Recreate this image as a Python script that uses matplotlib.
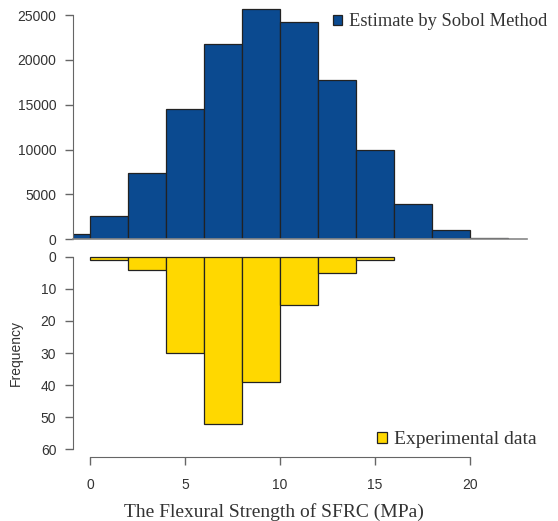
import matplotlib
matplotlib.use("Agg")
import matplotlib.pyplot as plt
from matplotlib.patches import Patch

# simulated (Sobol) histogram, bins of width 2 starting at -2
sobol_left_edges = [-2, 0, 2, 4, 6, 8, 10, 12, 14, 16, 18, 20]
sobol_counts = [560, 2600, 7400, 14500, 21800, 25700, 24200, 17800, 9900, 3950, 1000, 150]

# experimental histogram, bins of width 2 starting at 0
exp_left_edges = [0, 2, 4, 6, 8, 10, 12, 14]
exp_counts = [1, 4, 30, 52, 39, 15, 5, 1]

bin_width = 2
blue = "#0b4a90"
yellow = "#ffd800"
edge = "#222222"
axis_color = "#666666"
text_color = "#333333"

W, H = 558, 521
fig = plt.figure(figsize=(W / 100, H / 100), dpi=100)

sans = ["Liberation Sans", "DejaVu Sans"]
serif = ["Liberation Serif", "DejaVu Serif"]

# top panel
ax_t = fig.add_axes([73 / W, (H - 239.3) / H, 454 / W, (239.3 - 5) / H])
ax_t.bar(sobol_left_edges, sobol_counts, width=bin_width, align="edge",
         color=blue, edgecolor=edge, linewidth=0.9)
ax_t.set_xlim(-0.895, 23.0)
ax_t.set_ylim(0, 26120)
for s in ["top", "right"]:
    ax_t.spines[s].set_visible(False)
ax_t.spines["left"].set_bounds(0, 25000)
ax_t.spines["left"].set_color(axis_color)
ax_t.spines["bottom"].set_color("#888888")
ax_t.spines["bottom"].set_linewidth(1.2)
ax_t.set_xticks([])
ax_t.set_yticks(range(0, 25001, 5000))
ax_t.tick_params(axis="y", length=6, width=1, color=axis_color, pad=6,
                 labelsize=10, labelcolor=text_color)
for lab in ax_t.get_yticklabels():
    lab.set_family(sans)

# bottom panel (inverted)
ax_b = fig.add_axes([73 / W, (H - 456.7) / H, 454 / W, (456.7 - 250) / H])
ax_b.bar(exp_left_edges, exp_counts, width=bin_width, align="edge",
         color=yellow, edgecolor=edge, linewidth=0.9)
ax_b.set_xlim(-0.895, 23.0)
ax_b.set_ylim(62.3, -2.09)
for s in ["top", "right"]:
    ax_b.spines[s].set_visible(False)
ax_b.spines["left"].set_bounds(0, 60)
ax_b.spines["bottom"].set_bounds(0, 20)
for s in ["left", "bottom"]:
    ax_b.spines[s].set_color(axis_color)
ax_b.set_yticks(range(0, 61, 10))
ax_b.set_xticks(range(0, 21, 5))
ax_b.tick_params(axis="both", length=6, width=1, color=axis_color,
                 labelsize=10, labelcolor=text_color)
ax_b.tick_params(axis="y", pad=6)
ax_b.tick_params(axis="x", pad=9)
for lab in ax_b.get_yticklabels() + ax_b.get_xticklabels():
    lab.set_family(sans)

ax_b.set_ylabel("Frequency", fontsize=10, family=sans, color=text_color)
ax_b.yaxis.set_label_coords(-0.11, 0.504)
ax_b.set_xlabel("The Flexural Strength of SFRC (MPa)", fontsize=14,
                family=serif, color=text_color)
ax_b.xaxis.set_label_coords(0.443, -0.2675)
ax_b.xaxis.label.set_va("center")

# legends
def add_legend(color, label, x_px, y_px, size):
    leg = fig.legend(handles=[Patch(facecolor=color, edgecolor=edge, linewidth=0.9)],
                     labels=[label], frameon=False, loc="center left",
                     bbox_to_anchor=(x_px / W, (H - y_px) / H),
                     borderpad=0, borderaxespad=0,
                     handlelength=0.5, handleheight=0.5, handletextpad=0.35,
                     prop={"family": serif, "size": size})
    for t in leg.get_texts():
        t.set_color(text_color)


add_legend(blue, "Estimate by Sobol Method", 333, 22, 13.3)
add_legend(yellow, "Experimental data", 377, 440, 14)

fig.savefig("out.png", dpi=100)
